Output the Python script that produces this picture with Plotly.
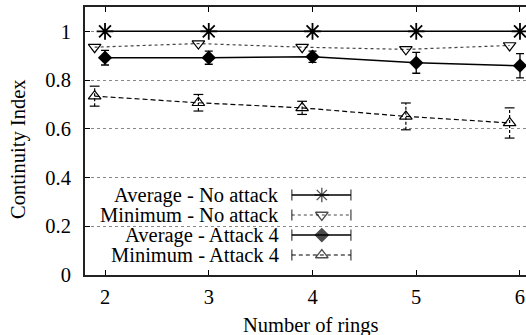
import plotly.graph_objects as go

rings = [2, 3, 4, 5, 6]
avg_no_attack = [1.0, 1.0, 1.0, 1.0, 1.0]
min_no_attack = [0.935, 0.95, 0.935, 0.926, 0.942]
avg_attack4 = [0.892, 0.892, 0.896, 0.871, 0.859]
avg_attack4_err = [0.030, 0.027, 0.023, 0.043, 0.050]
min_attack4 = [0.734, 0.707, 0.686, 0.651, 0.624]
min_attack4_err = [0.041, 0.034, 0.027, 0.055, 0.062]
y_ticks = [0, 0.2, 0.4, 0.6, 0.8, 1]
y_tick_labels = ["0", "0.2", "0.4", "0.6", "0.8", "1"]
legend_names = ["Average - No attack", "Minimum - No attack",
                "Average - Attack 4", "Minimum - Attack 4"]

MIN_OFFSET = -0.1
x_min = [r + MIN_OFFSET for r in rings]

FONT = "Liberation Serif, Times New Roman, serif"
FS = 20.5
BLACK = "#000000"

fig = go.Figure()

# Average - No attack
fig.add_trace(go.Scatter(
    x=rings, y=avg_no_attack, mode="lines+markers",
    line=dict(color=BLACK, width=1.5),
    marker=dict(symbol="asterisk-open", size=14, color=BLACK,
                line=dict(color=BLACK, width=1.8)),
    showlegend=False))

# Minimum - No attack
fig.add_trace(go.Scatter(
    x=x_min, y=min_no_attack, mode="lines+markers",
    line=dict(color="#444444", width=1.2, dash="dot"),
    marker=dict(symbol="triangle-down-open", size=11, color=BLACK,
                line=dict(color=BLACK, width=1.2)),
    showlegend=False))

# Average - Attack 4
fig.add_trace(go.Scatter(
    x=rings, y=avg_attack4, mode="lines+markers",
    line=dict(color=BLACK, width=1.5),
    marker=dict(symbol="diamond", size=11, color=BLACK),
    error_y=dict(type="data", array=avg_attack4_err, visible=True,
                 color=BLACK, thickness=1.3, width=4),
    showlegend=False))

# Minimum - Attack 4 error bars (dashed)
ex, ey = [], []
for xv, yv, e in zip(x_min, min_attack4, min_attack4_err):
    ex += [xv, xv, None]
    ey += [yv - e, yv + e, None]
fig.add_trace(go.Scatter(
    x=ex, y=ey, mode="lines",
    line=dict(color=BLACK, width=1.2, dash="3px,2px"),
    showlegend=False, hoverinfo="skip"))
cx, cy = [], []
for xv, yv, e in zip(x_min, min_attack4, min_attack4_err):
    cx += [xv, xv]
    cy += [yv - e, yv + e]
fig.add_trace(go.Scatter(
    x=cx, y=cy, mode="markers",
    marker=dict(symbol="line-ew-open", size=7, color=BLACK,
                line=dict(color=BLACK, width=1.2)),
    showlegend=False, hoverinfo="skip"))

fig.add_trace(go.Scatter(
    x=x_min, y=min_attack4, mode="lines+markers",
    line=dict(color=BLACK, width=1.2, dash="5px,3px"),
    marker=dict(symbol="triangle-up-open", size=11, color=BLACK,
                line=dict(color=BLACK, width=1.2)),
    showlegend=False))

# Custom gnuplot-style key (text on the left, sample on the right)
row_y = [0.2985, 0.2239, 0.149, 0.0746]
styles = [
    (dict(color=BLACK, width=1.5), "asterisk-open", 12),
    (dict(color="#444444", width=1.2, dash="dot"), "triangle-down-open", 11),
    (dict(color=BLACK, width=1.5), "diamond", 10),
    (dict(color=BLACK, width=1.2, dash="4px,3px"), "triangle-up-open", 11),
]
sx = [0.469, 0.537, 0.603]
for name, ry, (ln, sym, sz) in zip(legend_names, row_y, styles):
    fig.add_trace(go.Scatter(
        x=sx, y=[ry] * 3, mode="lines+markers", xaxis="x2", yaxis="y2",
        line=ln,
        marker=dict(symbol=["line-ns-open", sym, "line-ns-open"],
                    size=[8, sz, 8], color=BLACK,
                    line=dict(color=BLACK, width=1.3)),
        showlegend=False, hoverinfo="skip"))
    fig.add_annotation(xref="paper", yref="paper", x=0.445, y=ry,
                       xanchor="right", yanchor="middle", showarrow=False,
                       text=name, font=dict(family=FONT, size=FS, color=BLACK))

fig.add_shape(type="rect", xref="paper", yref="paper",
              x0=0.003, x1=0.624, y0=0.028, y1=0.345,
              fillcolor="white", line=dict(width=0), layer="between")

# Axis titles
fig.add_annotation(xref="paper", yref="paper", x=0.5125, y=-0.1866,
                   xanchor="center", yanchor="middle", showarrow=False,
                   text="Number of rings", font=dict(family=FONT, size=FS, color=BLACK))
fig.add_annotation(xref="paper", yref="paper", x=-0.152, y=0.47,
                   xanchor="center", yanchor="middle", showarrow=False, textangle=-90,
                   text="Continuity Index", font=dict(family=FONT, size=FS, color=BLACK))

fig.update_layout(
    width=526, height=335,
    margin=dict(l=85, r=0, t=7, b=60, autoexpand=False),
    paper_bgcolor="white", plot_bgcolor="white",
    font=dict(family=FONT, size=FS, color=BLACK),
    hovermode=False,
    xaxis=dict(range=[1.807, 6.058], tickvals=rings, automargin=False,
               ticks="inside", ticklen=5, tickwidth=1, tickcolor=BLACK,
               showline=True, linecolor="#222222", linewidth=2, mirror="ticks",
               showgrid=False, zeroline=False, ticklabelstandoff=2),
    yaxis=dict(range=[0, 1.1], tickvals=y_ticks, ticktext=y_tick_labels,
               automargin=False,
               ticks="inside", ticklen=5, tickwidth=1, tickcolor=BLACK,
               showline=True, linecolor="#222222", linewidth=2, mirror=False,
               showgrid=True, gridcolor="#888888", griddash="dot", gridwidth=1,
               zeroline=False, ticklabelstandoff=8),
    xaxis2=dict(range=[0, 1], overlaying="x", visible=False),
    yaxis2=dict(range=[0, 1], overlaying="y", visible=False),
)

fig.write_html("out.html", config={"displayModeBar": False},
               post_script="document.body.style.margin='0';document.body.style.overflow='hidden';")
